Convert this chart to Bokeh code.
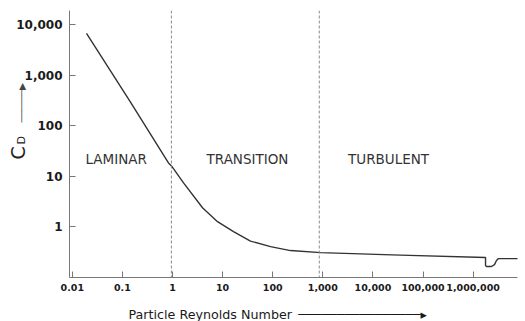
from bokeh.plotting import figure
from bokeh.models import Range1d, FixedTicker, Span, Label, Title
from bokeh.embed import file_html
from bokeh.resources import INLINE

# Drag coefficient curve
reynolds = [0.0192, 0.145, 0.83, 0.955, 1.66, 3.97, 7.91, 16.5, 36.0, 90.4, 226,
            900, 35500, 1.77e6, 1.77e6, 1.85e6, 2.33e6, 2.67e6, 2.93e6, 3.21e6, 8.06e6]
drag_coef = [6650, 290, 18.2, 15.9, 7.36, 2.37, 1.256, 0.797, 0.518, 0.404, 0.337,
             0.307, 0.274, 0.245, 0.170, 0.163, 0.163, 0.178, 0.214, 0.234, 0.234]

x_ticks = [0.01, 0.1, 1, 10, 100, 1000, 10000, 100000, 1000000]
x_tick_labels = ["0.01", "0.1", "1", "10", "100", "1,000", "10,000", "100,000", "1,000,000"]
y_ticks = [1, 10, 100, 1000, 10000]
y_tick_labels = ["1", "10", "100", "1,000", "10,000"]

regime_bounds = [0.95, 850]
regime_names = ["LAMINAR", "TRANSITION", "TURBULENT"]
regime_x = [0.0183, 31.4, 20500]
regime_y = 21.9

x_title = "Particle Reynolds Number"
x_arrow = "\u2002" + "\u2500" * 16 + "\u25b8"
y_title_main = "C"
y_title_sub = "D"
y_arrow = "\u2500" * 6 + "\u25b6"

FONT = "DejaVu Sans"

p = figure(width=525, height=321, x_axis_type="log", y_axis_type="log",
           x_range=Range1d(10 ** -2.056, 10 ** 6.886),
           y_range=Range1d(10 ** -1.005, 10 ** 4.276),
           output_backend="svg", toolbar_location=None,
           min_border_left=69, min_border_right=8, min_border_top=10, min_border_bottom=43)
p.outline_line_color = None
p.grid.visible = False
p.background_fill_color = "white"
p.border_fill_color = "white"

for ax, ticks, labels, size, standoff in [
        (p.xaxis[0], x_ticks, x_tick_labels, "9.5px", 6),
        (p.yaxis[0], y_ticks, y_tick_labels, "12px", 7)]:
    ax.ticker = FixedTicker(ticks=ticks, minor_ticks=[])
    ax.major_label_overrides = {float(t): l for t, l in zip(ticks, labels)}
    ax.major_label_text_font = FONT
    ax.major_label_text_font_style = "bold"
    ax.major_label_text_font_size = size
    ax.major_label_text_color = "#1a1a1a"
    ax.major_label_standoff = standoff
    ax.axis_line_color = "#777777"
    ax.major_tick_line_color = "#777777"
    ax.major_tick_in = 6
    ax.major_tick_out = 0
    ax.minor_tick_in = 0
    ax.minor_tick_out = 0

# invisible spacer label to push the x title down a little
p.xaxis.axis_label = " "
p.xaxis.axis_label_text_font_size = "7px"
p.xaxis.axis_label_standoff = 1
p.xaxis.axis_label_text_alpha = 0

for b in regime_bounds:
    p.add_layout(Span(location=b, dimension="height", line_color="#8a8a8a",
                      line_width=1, line_dash="3 2"))

p.line(reynolds, drag_coef, line_color="#333333", line_width=1.4)

for name, rx in zip(regime_names, regime_x):
    p.add_layout(Label(x=rx, y=regime_y, text=name, text_font=FONT,
                       text_font_size="13.5px", text_color="#333333",
                       text_align="left" if name == "LAMINAR" else "center",
                       text_baseline="middle"))

# x-axis title with arrow (below panel)
p.add_layout(Title(text=x_title + x_arrow, align="left", offset=59, standoff=0,
                   text_font=FONT, text_font_size="12.7px", text_font_style="normal",
                   text_color="#1a1a1a"), "below")

# y-axis title C_D with arrow (left panel, overlapping the tick-label column)
p.add_layout(Title(text=y_title_main, align="left", offset=118, standoff=-30,
                   vertical_align="bottom", text_font=FONT, text_font_size="19px",
                   text_font_style="normal", text_color="#222222"), "left")
p.add_layout(Title(text=y_title_sub, align="left", offset=133, standoff=-28,
                   vertical_align="bottom", text_font=FONT, text_font_size="11px",
                   text_font_style="normal", text_color="#222222"), "left")
p.add_layout(Title(text=y_arrow, align="left", offset=155, standoff=-26,
                   vertical_align="bottom", text_font=FONT, text_font_size="9px",
                   text_font_style="normal", text_color="#444444"), "left")

open("out.html", "w").write(file_html(p, INLINE))
